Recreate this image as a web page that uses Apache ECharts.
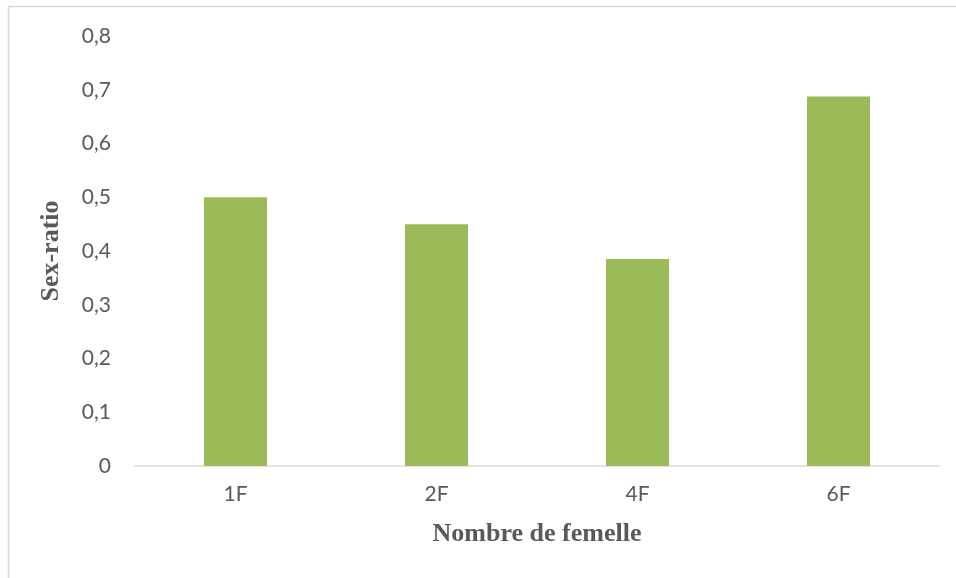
<!DOCTYPE html>
<html>
<head>
<meta charset="utf-8">
<script src="https://cdn.jsdelivr.net/npm/echarts@6/dist/echarts.min.js"></script>
<style>
  html, body { margin: 0; padding: 0; background: #fff; }
  #chart { width: 956px; height: 578px; }
</style>
</head>
<body>
<div id="chart"></div>
<script>
// Sex-ratio by number of females
const categories = ['1F', '2F', '4F', '6F'];
const sexRatio = [0.5, 0.45, 0.385, 0.6875];
const yTicks = { min: 0, max: 0.8, interval: 0.1 };

const chart = echarts.init(document.getElementById('chart'), null, { renderer: 'canvas' });

chart.setOption({
  backgroundColor: '#ffffff',
  animation: false,
  graphic: [{
    type: 'rect',
    shape: { x: 8.5, y: 6.5, width: 960, height: 600 },
    style: { fill: 'none', stroke: '#d9d9d9', lineWidth: 1.5 },
    silent: true
  }],
  grid: { left: 135, right: 17, top: 36, bottom: 112 },
  xAxis: {
    type: 'category',
    data: categories,
    axisLine: { show: true, lineStyle: { color: '#d9d9d9', width: 1.5 } },
    axisTick: { show: false },
    axisLabel: { color: '#595959', fontSize: 21, fontFamily: 'Lato', margin: 18 },
    name: 'Nombre de femelle',
    nameLocation: 'middle',
    nameGap: 55,
    nameTextStyle: { color: '#595959', fontSize: 26, fontWeight: 'bold', fontFamily: 'Liberation Serif' }
  },
  yAxis: {
    type: 'value',
    min: yTicks.min,
    max: yTicks.max,
    interval: yTicks.interval,
    axisLine: { show: false },
    axisTick: { show: false },
    splitLine: { show: false },
    axisLabel: {
      color: '#595959', fontSize: 21, fontFamily: 'Lato', margin: 24,
      formatter: v => String(Math.round(v * 10) / 10).replace('.', ',')
    },
    name: 'Sex-ratio',
    nameLocation: 'middle',
    nameGap: 71,
    nameTextStyle: { color: '#595959', fontSize: 26, fontWeight: 'bold', fontFamily: 'Liberation Serif' }
  },
  series: [{
    type: 'bar',
    data: sexRatio,
    barWidth: 63,
    itemStyle: { color: '#9bbb59' }
  }]
});
</script>
</body>
</html>
